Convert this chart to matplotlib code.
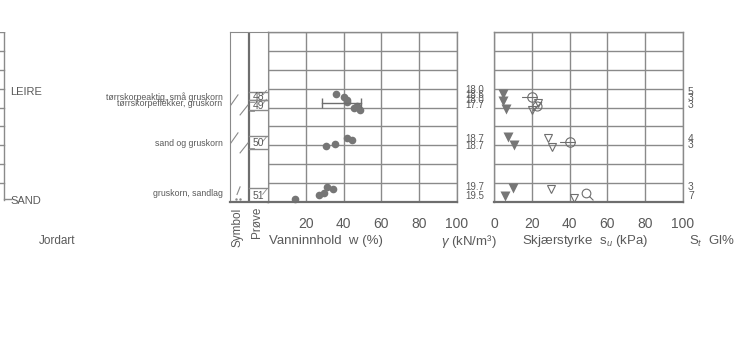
import numpy as np
import matplotlib
matplotlib.use('Agg')
import matplotlib.pyplot as plt
from matplotlib.path import Path
from matplotlib import transforms

# dybde (rad-enheter, 0 = topp av profil)
w_depth = [3.28, 3.44, 3.62, 3.70, 3.92, 4.04, 4.13, 5.60, 5.73, 5.92, 6.06, 8.22, 8.33, 8.50, 8.64, 8.84]
w_values = [35.8, 40.2, 42.0, 42.0, 47.3, 45.5, 48.7, 41.8, 44.3, 35.6, 30.7, 31.2, 34.4, 29.6, 26.8, 14.1]

# plastisitetsgrense / flytegrense
atterberg_depth = [3.74]
w_plastic = [28.4]
w_liquid = [49.4]

gamma_depth = [3.05, 3.33, 3.60, 3.88, 5.66, 6.02, 8.22, 8.66]
gamma_text = ['18.0', '18.6', '18.0', '17.7', '18.7', '18.7', '19.7', '19.5']

st_depth = [3.18, 3.52, 3.86, 5.64, 5.98, 8.22, 8.66]
st_text = ['5', '3', '3', '4', '3', '3', '7']

# skjærstyrke
su_remoulded_depth = [3.30, 3.65, 4.09, 5.54, 5.98, 8.27, 8.68]
su_remoulded = [4.9, 4.9, 6.2, 7.4, 10.4, 10.1, 6.0]
su_cone_depth = [3.74, 4.13, 5.63, 6.07, 8.33, 8.80]
su_cone = [23.5, 20.3, 28.8, 30.5, 30.2, 42.5]
su_uc_depth = [3.42, 5.84]
su_uc = [19.9, 40.2]
su_uc_slash_depth = [3.92]
su_uc_slash = [22.6]
su_uc_q_depth = [8.54]
su_uc_q = [48.7]

sample_no = ['48', '49', '50', '51']
sample_top = [3.18, 3.60, 5.50, 8.28]
sample_bot = [3.60, 4.12, 6.20, 9.0]

layer_text = ['tørrskorpeaktig, små gruskorn', 'tørrskorpeflekker, gruskorn',
              'sand og gruskorn', 'gruskorn, sandlag']
layer_depth = [3.44, 3.76, 5.92, 8.54]

# skråstreker i symbolkolonnen (midtdybde for hvert par)
slash_depth = [3.86, 5.87]

x_ticks = [0, 20, 40, 60, 80, 100]

plt.rcParams['font.family'] = ['Liberation Sans', 'DejaVu Sans']
plt.rcParams['mathtext.fontset'] = 'custom'
plt.rcParams['mathtext.rm'] = 'Liberation Sans'
plt.rcParams['mathtext.it'] = 'Liberation Sans:italic'
LINE = '#8a8a8a'
DARK = '#6e6e6e'
TXT = '#5a5a5a'
MARK = '#767676'

W, H = 742, 337
fig = plt.figure(figsize=(W / 100, H / 100), dpi=100)
fig.patch.set_facecolor('white')


def box(x0, x1, y0=32, y1=202):
    return [x0 / W, 1 - y1 / H, (x1 - x0) / W, (y1 - y0) / H]


def grid_axes(rect):
    ax = fig.add_axes(rect)
    ax.set_xlim(0, 100)
    ax.set_ylim(9, 0)
    for s in ax.spines.values():
        s.set_color(LINE)
        s.set_linewidth(1.0)
    ax.spines['bottom'].set_color(DARK)
    ax.spines['bottom'].set_linewidth(1.6)
    ax.set_xticks(x_ticks)
    ax.set_yticks(range(10))
    ax.grid(True, color=LINE, linewidth=1.0)
    ax.tick_params(length=0, labelleft=False, colors=TXT, labelsize=10, pad=11)
    return ax


ax_w = grid_axes(box(268, 457))
ax_w.set_xticklabels([''] + [str(t) for t in x_ticks[1:]])
ax_s = grid_axes(box(494, 683))
ax_s.set_xticklabels([str(t) for t in x_ticks])

# vanninnhold
ax_w.plot(w_values, w_depth, 'o', color=MARK, ms=5.5, mec='none', clip_on=False)
for d, lo, hi in zip(atterberg_depth, w_plastic, w_liquid):
    ax_w.plot([lo, hi], [d, d], color=DARK, lw=1.0)
    ax_w.plot([lo, hi], [d, d], '|', color=DARK, ms=7, mew=1.0)


def tailed_circle(kind):
    circ = Path.unit_circle()
    if kind == 'left':
        extra = Path([(-2.2, 0), (1, 0)], [Path.MOVETO, Path.LINETO])
    elif kind == 'slash':
        extra = Path([(-1, -1), (1, 1)], [Path.MOVETO, Path.LINETO])
    else:
        extra = Path([(0.7, -0.7), (1.6, -1.6)], [Path.MOVETO, Path.LINETO])
    return Path.make_compound_path(circ, extra)


# skjærstyrke
ax_s.plot(su_remoulded, su_remoulded_depth, 'v', color=MARK, ms=7, mec='none', clip_on=False)
ax_s.plot(su_cone, su_cone_depth, 'v', mfc='none', mec=DARK, ms=5.5, mew=0.8, clip_on=False)
ax_s.plot(su_uc, su_uc_depth, ls='none', marker=tailed_circle('left'), mfc='none', mec=DARK, ms=15, mew=0.8)
ax_s.plot(su_uc_slash, su_uc_slash_depth, ls='none', marker=tailed_circle('slash'), mfc='none', mec=DARK, ms=6.5, mew=0.8)
ax_s.plot(su_uc_q, su_uc_q_depth, ls='none', marker=tailed_circle('q'), mfc='none', mec=DARK, ms=10, mew=0.8)

# romvekt og sensitivitet som tekst
tr_g = transforms.blended_transform_factory(fig.transFigure, ax_w.transData)
for d, t in zip(gamma_depth, gamma_text):
    fig.text(465 / W, d, t, transform=tr_g, ha='left', va='center', fontsize=7, color=TXT)
for d, t in zip(st_depth, st_text):
    fig.text(688 / W, d, t, transform=tr_g, ha='left', va='center', fontsize=7.5, color=TXT)

# symbol- og prøvekolonne
ax_sym = fig.add_axes(box(230, 268))
ax_sym.set_xlim(0, 2)
ax_sym.set_ylim(9, 0)
ax_sym.set_xticks([])
ax_sym.set_yticks([])
for s in ax_sym.spines.values():
    s.set_color(LINE)
ax_sym.spines['bottom'].set_color(DARK)
ax_sym.spines['bottom'].set_linewidth(1.6)
ax_sym.axvline(1, color=DARK, lw=1.6)
for no, t0, t1 in zip(sample_no, sample_top, sample_bot):
    ax_sym.plot([1, 2], [t0, t0], color=LINE, lw=1.0)
    ax_sym.plot([1, 2], [t1, t1], color=LINE, lw=1.0)
    mid = (t0 + t1) / 2
    ax_sym.text(1.5, mid + 0.05, no, ha='center', va='center', fontsize=7.5, color=TXT)
    ax_sym.plot([1.05, 1.25], [mid + 0.3, mid + 0.3], color=LINE, lw=0.6)
    ax_sym.plot([1.72, 1.92], [mid - 0.05, mid - 0.3], color=LINE, lw=0.6)
for lt, ld in zip(layer_text, layer_depth):
    ax_sym.text(-0.4, ld, lt, ha='right', va='center', fontsize=6.3, color=TXT, clip_on=False)
for sd in slash_depth:
    ax_sym.plot([0.05, 0.42], [sd, sd - 0.53], color=LINE, lw=0.8)
    ax_sym.plot([0.53, 0.95], [sd + 0.53, sd], color=LINE, lw=0.8)
ax_sym.plot([0.37, 0.53], [8.6, 8.2], color=LINE, lw=0.8)
ax_sym.plot([0.3, 0.5], [8.85, 8.85], ls='none', marker='.', ms=1.5, color=LINE)

# jordart
ax_j = fig.add_axes(box(0, 120))
ax_j.set_xlim(0, 120)
ax_j.set_ylim(9, 0)
ax_j.axis('off')
ax_j.plot([4, 4], [0, 8.9], color=LINE, lw=1.0)
for d in range(9):
    ax_j.plot([0, 4], [d, d], color=LINE, lw=1.0)
ax_j.plot([4, 11], [8.82, 8.82], color=LINE, lw=1.0)
ax_j.text(10, 3.2, 'LEIRE', fontsize=8, color=TXT, va='center')
ax_j.text(10, 8.95, 'SAND', fontsize=8, color=TXT, va='center')

# akse-titler
fig.text(57 / W, 1 - 241 / H, 'Jordart', fontsize=8.5, color=TXT, ha='center', va='center')
fig.text(238 / W, 1 - 227 / H, 'Symbol', fontsize=8.5, color=TXT, ha='center', va='center', rotation=90)
fig.text(257 / W, 1 - 222 / H, 'Prøve', fontsize=8.5, color=TXT, ha='center', va='center', rotation=90)
fig.text(326 / W, 1 - 241 / H, 'Vanninnhold  w (%)', fontsize=9.5, color=TXT, ha='center', va='center')
fig.text(469 / W, 1 - 241 / H, r'$\gamma$ (kN/m³)', fontsize=9.5, color=TXT, ha='center', va='center')
fig.text(585 / W, 1 - 241 / H, 'Skjærstyrke  s$_u$ (kPa)', fontsize=9.5, color=TXT, ha='center', va='center')
fig.text(712 / W, 1 - 241 / H, 'S$_t$  Gl%', fontsize=9.5, color=TXT, ha='center', va='center')

fig.savefig('out.png', dpi=100, facecolor='white')
